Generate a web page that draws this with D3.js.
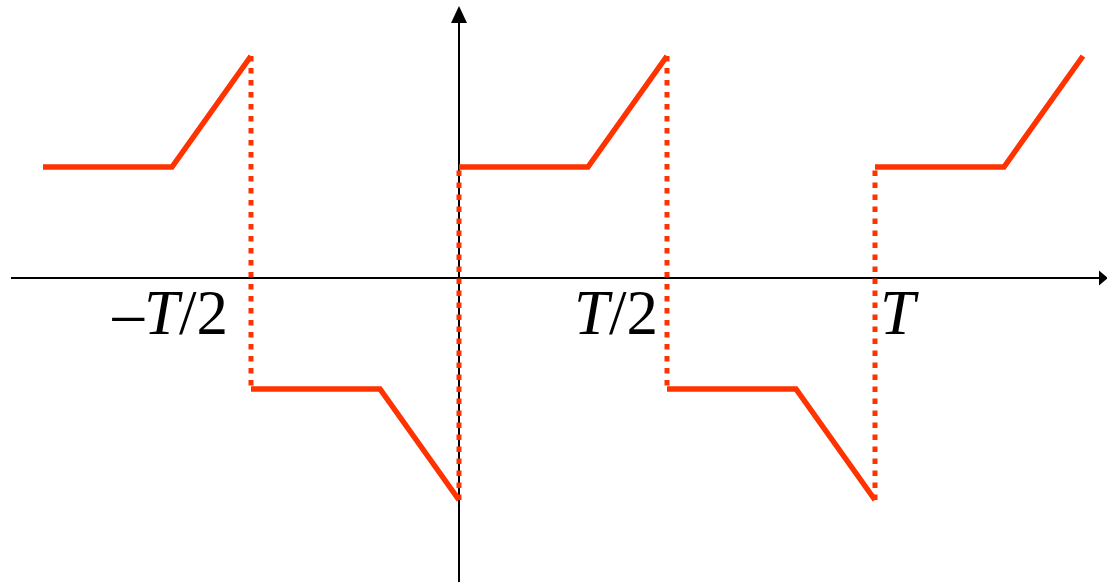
<!DOCTYPE html>
<html>
<head>
<meta charset="utf-8">
<script src="https://cdn.jsdelivr.net/npm/d3@7"></script>
<style>
  html, body { margin: 0; padding: 0; background: #fff; }
  svg { display: block; }
</style>
</head>
<body>
<div id="chart"></div>
<script>
// one half period, in units of T
const halfShape = [0, 0.31, 0.5];
const upperLevels = [1, 1, 2];
const lowerLevels = [-1, -1, -2];
// start of each half period and which shape it uses
const halfStarts = [-1, -0.5, 0, 0.5, 1];
const halfSigns = [1, -1, 1, -1, 1];
// discontinuities: where the signal jumps, from -> to
const jumpAt = [-0.5, 0, 0.5, 1];
const jumpFrom = [2, -2, 2, -2];
const jumpTo = [-1, 1, -1, 1];
// tick labels on the time axis
const tickPos = [-0.5, 0.5, 1];
const tickText = ['\u2013T/2', 'T/2', 'T'];

const width = 1107, height = 582;
const red = '#ff3300';

const svg = d3.select('#chart').append('svg')
    .attr('width', width)
    .attr('height', height);

const x = d3.scaleLinear().domain([0, 1]).range([459, 875]);
const y = d3.scaleLinear().domain([0, 1]).range([278, 167]);

// axes
svg.append('line')
    .attr('x1', 11).attr('x2', 1100)
    .attr('y1', y(0)).attr('y2', y(0))
    .attr('stroke', '#000').attr('stroke-width', 2);
svg.append('path')
    .attr('d', `M1108,${y(0)} L1099,${y(0) - 7.5} L1099,${y(0) + 7.5} Z`)
    .attr('fill', '#000');

svg.append('line')
    .attr('x1', x(0)).attr('x2', x(0))
    .attr('y1', 22).attr('y2', height)
    .attr('stroke', '#000').attr('stroke-width', 2);
svg.append('path')
    .attr('d', `M${x(0)},6 L${x(0) - 8},23 L${x(0) + 8},23 Z`)
    .attr('fill', '#000');

// solid pieces of the waveform
const line = d3.line().x(d => x(d[0])).y(d => y(d[1]));
const pieces = halfStarts.map((s, i) => {
    const lv = halfSigns[i] > 0 ? upperLevels : lowerLevels;
    return halfShape.map((t, j) => [s + t, lv[j]]);
});

svg.selectAll('.piece')
    .data(pieces)
    .join('path')
    .attr('class', 'piece')
    .attr('d', line)
    .attr('fill', 'none')
    .attr('stroke', red)
    .attr('stroke-width', 5.5)
    .attr('stroke-linejoin', 'miter');

// dotted jumps
svg.selectAll('.jump')
    .data(jumpAt)
    .join('line')
    .attr('class', 'jump')
    .attr('x1', d => x(d)).attr('x2', d => x(d))
    .attr('y1', (d, i) => y(jumpFrom[i]))
    .attr('y2', (d, i) => y(jumpTo[i]))
    .attr('stroke', red)
    .attr('stroke-width', 5)
    .attr('stroke-dasharray', '5.5,6.5');

// tick labels (offsets from the tick position, in px)
const labelDx = [-23, -9, 5];
const labels = svg.selectAll('.tick-label')
    .data(tickPos)
    .join('text')
    .attr('class', 'tick-label')
    .attr('x', (d, i) => x(d) + labelDx[i])
    .attr('y', 334)
    .attr('text-anchor', d => d === 1 ? 'start' : 'end')
    .style('font-family', '"Liberation Serif", "Times New Roman", serif')
    .style('font-size', '63px')
    .style('fill', '#000');

labels.each(function(d, i) {
    const txt = d3.select(this);
    const parts = tickText[i].split('T');
    txt.append('tspan').text(parts[0]);
    txt.append('tspan').style('font-style', 'italic').text('T');
    if (parts[1]) txt.append('tspan').text(parts[1]);
});
</script>
</body>
</html>
